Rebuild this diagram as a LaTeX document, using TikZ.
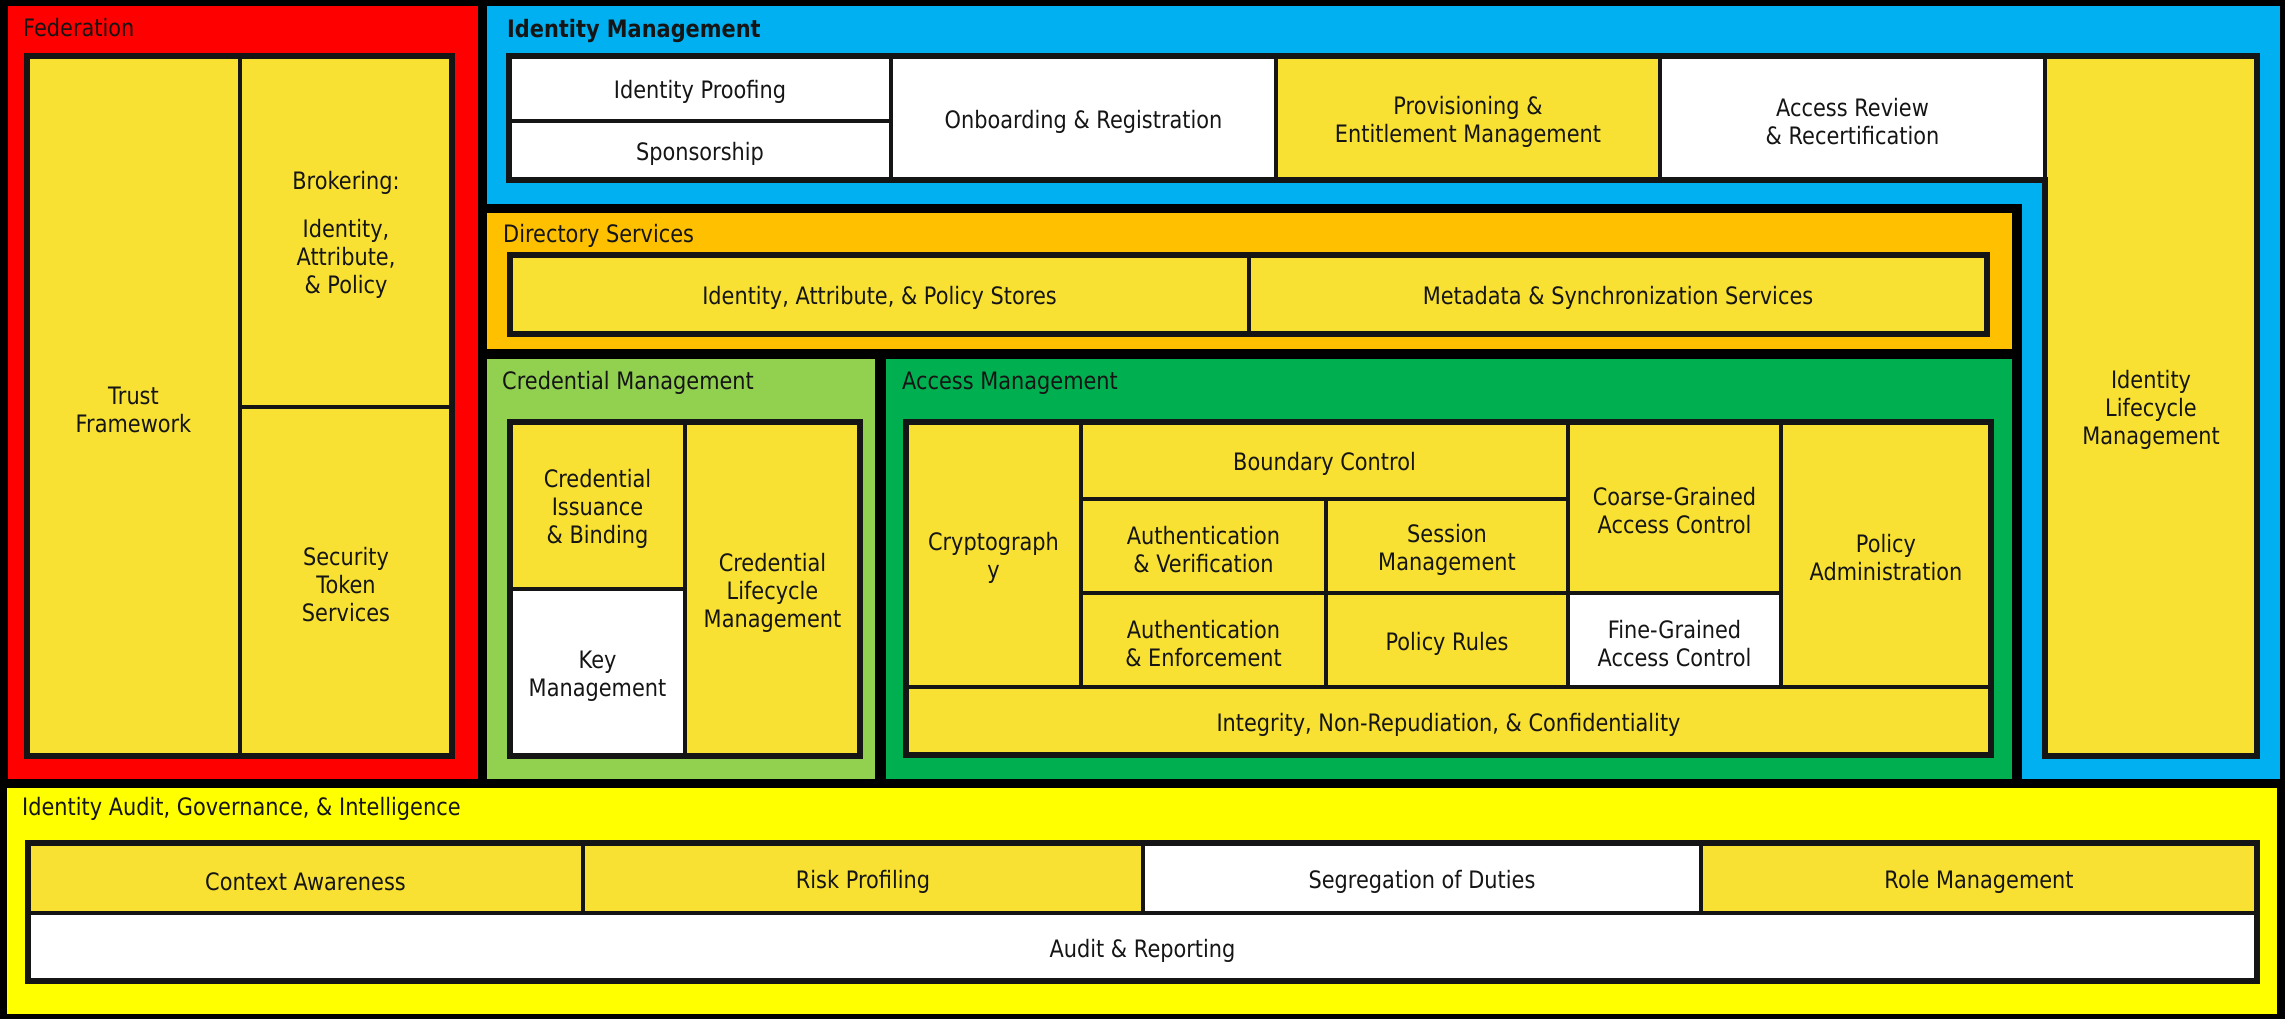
\documentclass[tikz,border=0pt]{standalone}
\usepackage{fontspec}
\setmainfont{DejaVu Sans}[FakeStretch=0.87]
\definecolor{fedred}{HTML}{FF0000}
\definecolor{idblue}{HTML}{00B0F0}
\definecolor{dirorange}{HTML}{FFC000}
\definecolor{credgreen}{HTML}{92D050}
\definecolor{accgreen}{HTML}{00B050}
\definecolor{audyellow}{HTML}{FFFF00}
\definecolor{cellyellow}{HTML}{F8E133}
\definecolor{ink}{HTML}{151515}
\tikzset{
  txt/.style={font=\fontsize{24}{28}\selectfont, text=ink},
  cellbase/.style={draw=ink, line width=4.5pt, inner sep=0pt, outer sep=0pt, anchor=center},
  cellY/.style={cellbase, fill=cellyellow},
  cellW/.style={cellbase, fill=white},
  celltext/.style={txt, align=center, inner sep=0pt, anchor=center, yshift=-3.5pt},
  region/.style={inner sep=0pt, outer sep=0pt, draw=none, anchor=center},
  titletxt/.style={txt, anchor=west, inner sep=0pt},
  frame/.style={draw=ink, line width=6pt},
}
\newcommand{\cellat}[7]{%
  \node[#1, minimum width={(#5-#3)*1pt}, minimum height={(#6-#4)*1pt}] (#2) at ({(#3+#5)/2},{(#4+#6)/2}) {};
  \node[celltext] (#2-t) at (#2.center) {#7};}
\newcommand{\regionat}[6]{%
  \node[region, #1, minimum width={(#5-#3)*1pt}, minimum height={(#6-#4)*1pt}] (#2) at ({(#3+#5)/2},{(#4+#6)/2}) {};}
\begin{document}
\begin{tikzpicture}[x=1pt,y=-1pt]
\fill[black] (0,0) rectangle (2285,1019);
\useasboundingbox (0,0) rectangle (2285,1019);
% regions
\regionat{fill=fedred}{rFed}{8}{6}{478}{779}
\regionat{fill=idblue}{rId}{487}{6}{2280}{779}
\regionat{fill=black}{rGap}{487}{204}{2022}{779}
\regionat{fill=dirorange}{rDir}{487}{213}{2012}{349}
\regionat{fill=credgreen}{rCred}{487}{359}{875}{779}
\regionat{fill=accgreen}{rAcc}{886}{359}{2012}{779}
\regionat{fill=audyellow}{rAud}{7}{788}{2277}{1014}
% titles
\node[titletxt] (tFed) at (23,28) {Federation};
\node[titletxt] (tId) at (507,31) {\textbf{Identity Management}};
\node[titletxt] (tDir) at (503,236) {Directory Services};
\node[titletxt] (tCred) at (502,383) {Credential Management};
\node[titletxt] (tAcc) at (902,383) {Access Management};
\node[titletxt] (tAud) at (22,809) {Identity Audit, Governance, \& Intelligence};
% Federation
\cellat{cellY}{fedTrust}{27}{56}{240}{756}{Trust\\Framework}
\cellat{cellY}{fedBrok}{240}{56}{452}{407}{Brokering:\\[20pt]Identity,\\Attribute,\\\& Policy}
\cellat{cellY}{fedSTS}{240}{407}{452}{756}{Security\\Token\\Services}
\draw[frame] (fedTrust.north west) rectangle (fedSTS.south east);
% Identity Management
\cellat{cellW}{idProof}{509}{56}{891}{121}{Identity Proofing}
\cellat{cellW}{idSpons}{509}{121}{891}{180}{Sponsorship}
\cellat{cellW}{idOnb}{891}{56}{1276}{180}{Onboarding \& Registration}
\cellat{cellY}{idProv}{1276}{56}{1660}{180}{Provisioning \&\\Entitlement Management}
\cellat{cellW}{idRev}{1660}{56}{2045}{180}{Access Review\\\& Recertification}
\cellat{cellY}{idLife}{2045}{56}{2257}{756}{Identity\\Lifecycle\\Management}
\draw[frame] (idSpons.south west) -- (idProof.north west) -- (idLife.north east) -- (idLife.south east) -- (idLife.south west) -- (idRev.south east) -- cycle;
% Directory
\cellat{cellY}{dirStores}{510}{255}{1249}{334}{Identity, Attribute, \& Policy Stores}
\cellat{cellY}{dirMeta}{1249}{255}{1987}{334}{Metadata \& Synchronization Services}
\draw[frame] (dirStores.north west) rectangle (dirMeta.south east);
% Credential
\cellat{cellY}{credIss}{510}{422}{685}{589}{Credential\\Issuance\\\& Binding}
\cellat{cellW}{credKey}{510}{589}{685}{756}{Key\\Management}
\cellat{cellY}{credLife}{685}{422}{860}{756}{Credential\\Lifecycle\\Management}
\draw[frame] (credIss.north west) rectangle (credLife.south east);
% Access
\cellat{cellY}{amCrypto}{906}{422}{1081}{687}{Cryptograph\\y}
\cellat{cellY}{amBound}{1081}{422}{1568}{499}{Boundary Control}
\cellat{cellY}{amAuthVer}{1081}{499}{1326}{593}{Authentication\\\& Verification}
\cellat{cellY}{amSess}{1326}{499}{1568}{593}{Session\\Management}
\cellat{cellY}{amAuthEnf}{1081}{593}{1326}{687}{Authentication\\\& Enforcement}
\cellat{cellY}{amRules}{1326}{593}{1568}{687}{Policy Rules}
\cellat{cellY}{amCoarse}{1568}{422}{1781}{593}{Coarse-Grained\\Access Control}
\cellat{cellW}{amFine}{1568}{593}{1781}{687}{Fine-Grained\\Access Control}
\cellat{cellY}{amAdmin}{1781}{422}{1991}{687}{Policy\\Administration}
\cellat{cellY}{amInteg}{906}{687}{1991}{755}{Integrity, Non-Repudiation, \& Confidentiality}
\draw[frame] (amCrypto.north west) rectangle (amInteg.south east);
% Audit
\cellat{cellY}{auCtx}{28}{843}{583}{913}{Context Awareness}
\cellat{cellY}{auRisk}{583}{843}{1143}{913}{Risk Profiling}
\cellat{cellW}{auSeg}{1143}{843}{1701}{913}{Segregation of Duties}
\cellat{cellY}{auRole}{1701}{843}{2257}{913}{Role Management}
\cellat{cellW}{auRep}{28}{913}{2257}{981}{Audit \& Reporting}
\draw[frame] (auCtx.north west) rectangle (auRep.south east);
\end{tikzpicture}
\end{document}
